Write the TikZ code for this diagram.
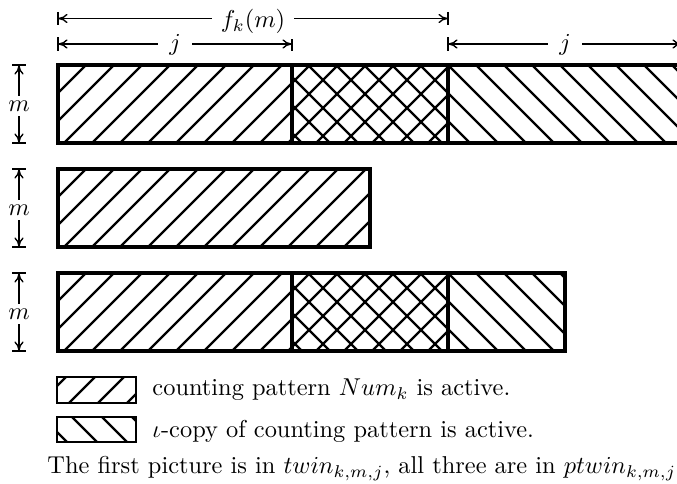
\documentclass[tikz,border=0pt]{standalone}
\usetikzlibrary{arrows.meta}
\newcommand\hatchF[6]{% anchor x, xa, xb, ytop, ybot, spacing : "/" lines
  \begin{scope}
    \clip (#2,#4) rectangle (#3,#5);
    \foreach \k in {-8,...,26} \draw[hatch] ({#1+#6*\k},#4) -- ++(-110,110);
  \end{scope}}
\newcommand\hatchB[6]{% anchor x, xa, xb, ytop, ybot, spacing : "\" lines
  \begin{scope}
    \clip (#2,#4) rectangle (#3,#5);
    \foreach \k in {-8,...,26} \draw[hatch] ({#1+#6*\k},#4) -- ++(110,110);
  \end{scope}}
\begin{document}
\begin{tikzpicture}[x=0.41pt,y=-0.41pt,
  box/.style={line width=1.64pt},
  legbox/.style={line width=1.2pt},
  divline/.style={line width=1.25pt},
  hatch/.style={line width=0.9pt},
  dim/.style={line width=0.55pt,{Computer Modern Rightarrow[length=3.9pt,width=3.8pt]}-{Computer Modern Rightarrow[length=3.9pt,width=3.8pt]}},
  tick/.style={line width=0.6pt},
  lab/.style={fill=white,inner ysep=2pt,inner xsep=3.5pt},
  txt/.style={anchor=base west,inner sep=0pt}]
\useasboundingbox (0,0) rectangle (677,484);
\clip (0,0) rectangle (677,484);

% ---------- row 1 ----------
\hatchF{58}{58}{292}{65}{143}{28}
\hatchF{58}{292}{448}{65}{143}{28}
\hatchB{448}{292}{448}{65}{143}{28}
\hatchB{448}{448}{682}{65}{143}{28}
\draw[box] (58,65) rectangle (682,143);
\draw[divline] (292,65) -- (292,143);
\draw[divline] (448,65) -- (448,143);

% ---------- row 2 ----------
\hatchF{58}{58}{370}{169}{247}{28}
\draw[box] (58,169) rectangle (370,247);

% ---------- row 3 ----------
\hatchF{58}{58}{292}{273}{351}{28}
\hatchF{58}{292}{448}{273}{351}{28}
\hatchB{448}{292}{448}{273}{351}{28}
\hatchB{448}{448}{565}{273}{351}{28}
\draw[box] (58,273) rectangle (565,351);
\draw[divline] (292,273) -- (292,351);
\draw[divline] (448,273) -- (448,351);

% ---------- dimension lines ----------
\coordinate (fL) at (58,18.5);
\coordinate (fR) at (448,18.5);
\coordinate (jaL) at (58,44);
\coordinate (jaR) at (292,44);
\coordinate (jbL) at (448,44);
\coordinate (jbR) at (682,44);
\foreach \a/\b in {fL/fR,jaL/jaR,jbL/jbR}{
  \draw[dim] (\a) -- (\b);
  \draw[tick] ([yshift=2.7pt]\a) -- ([yshift=-2.7pt]\a);
  \draw[tick] ([yshift=2.7pt]\b) -- ([yshift=-2.7pt]\b);
}
\node[lab,anchor=base,inner xsep=3.5pt] (flab) at (253,28) {$f_k(m)$};
\node[lab,anchor=base,inner xsep=4.5pt] (jalab) at (175,50) {$j$};
\node[lab,anchor=base,inner xsep=4.5pt] (jblab) at (565,50) {$j$};

\foreach \n/\t/\b in {1/65/143,2/169/247,3/273/351}{
  \coordinate (mT\n) at (19,\t);
  \coordinate (mB\n) at (19,\b);
  \draw[dim] (mT\n) -- (mB\n);
  \draw[tick] ([xshift=-2.7pt]mT\n) -- ([xshift=2.7pt]mT\n);
  \draw[tick] ([xshift=-2.7pt]mB\n) -- ([xshift=2.7pt]mB\n);
}
\node[lab,anchor=base] (m1) at (19,111.5) {$m$};
\node[lab,anchor=base] (m2) at (19,215.5) {$m$};
\node[lab,anchor=base] (m3) at (19,319.5) {$m$};

% ---------- legend ----------
\hatchF{66}{57}{136}{377}{403}{29}
\draw[legbox] (57,377) rectangle (136,403);
\hatchB{42}{57}{136}{417}{442}{30}
\draw[legbox] (57,417) rectangle (136,442);

\node[txt] (leg1) at (152,396) {counting pattern $Num_k$ is active.};
\node[txt] (leg2) at (152,438) {$\iota$-copy of counting pattern is active.};
\node[txt] (cap) at (47,474) {The first picture is in $twin_{k,m,j}$, all three are in $ptwin_{k,m,j}$.};
\end{tikzpicture}
\end{document}
